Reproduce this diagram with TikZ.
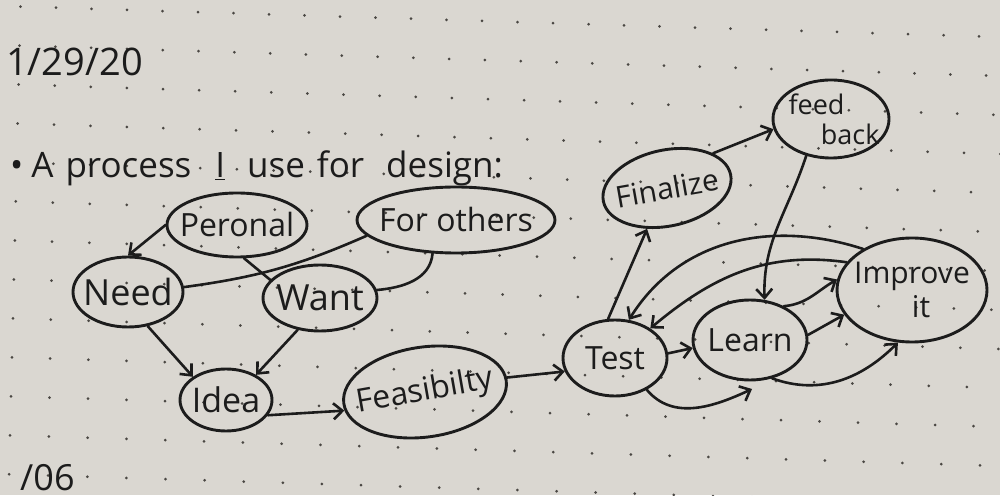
\documentclass[tikz,border=0pt]{standalone}
\usepackage{fontspec}
\setmainfont{Open Sans}
\usetikzlibrary{shapes.geometric,arrows.meta}
\definecolor{paper}{HTML}{DAD7D1}
\definecolor{ink}{HTML}{1C1C1C}
\definecolor{dotc}{HTML}{4A4743}
\tikzset{
  bub/.style={ellipse, draw=ink, line width=2.9pt, inner sep=0pt},
  txt/.style={text=ink, font=\fontsize{32}{34}\selectfont, inner sep=0pt},
  arr/.style={draw=ink, line width=2.6pt, line cap=round, -{Straight Barb[length=9pt,width=16pt]}},
  ln/.style={draw=ink, line width=2.6pt, line cap=round},
}
\begin{document}
\begin{tikzpicture}[x=1pt,y=1pt]
\fill[paper] (0,0) rectangle (1000,495);
\useasboundingbox (0,0) rectangle (1000,495);
\clip (0,0) rectangle (1000,495);
% dotted paper
\foreach \j in {0,...,12}{
  \foreach \i in {-1,...,28}{
    \pgfmathsetmacro{\xx}{20.5-0.95*\j+(35.5+0.3*\j)*\i}
    \pgfmathsetmacro{\yy}{495-(6+39*\j+0.031*\xx)}
    \fill[dotc] (\xx,\yy) circle (1.5pt);
  }
}
% headings
\node[txt, font=\fontsize{38}{40}\selectfont, anchor=base west] (date) at (6,419) {1/29/20};
\node[txt, font=\fontsize{35}{37}\selectfont, anchor=base west] (title) at (10,317)
  {\textbullet\hspace{8pt}A\hspace{12pt}process\hspace{24pt}\underline{I}\hspace{22pt}use\hspace{12pt}for\hspace{22pt}design:};
\node[txt, font=\fontsize{36}{38}\selectfont, anchor=north west] (frag) at (20,31) {/06};
% nodes
\node[bub, minimum width=140pt, minimum height=64pt, label={[txt]center:Peronal}] (per) at (237,270) {};
\node[bub, minimum width=198pt, minimum height=66pt, label={[txt]center:For others}] (oth) at (456,275) {};
\node[bub, minimum width=110pt, minimum height=70pt, label={[txt,font=\fontsize{36}{38}\selectfont]center:Need}] (need) at (128,203) {};
\node[bub, minimum width=114pt, minimum height=66pt, label={[txt,font=\fontsize{36}{38}\selectfont]center:Want}] (want) at (320,197) {};
\node[bub, minimum width=92pt, minimum height=62pt, label={[txt,font=\fontsize{34}{36}\selectfont]center:Idea}] (idea) at (226,95) {};
\node[bub, rotate=8, minimum width=164pt, minimum height=90pt, label={[txt,rotate=10]center:Feasibilty}] (feas) at (425,103) {};
\node[bub, minimum width=104pt, minimum height=76pt, label={[txt]center:Test}] (test) at (615,137) {};
\node[bub, minimum width=114pt, minimum height=80pt, label={[txt]center:Learn}] (learn) at (750,155) {};
\node[bub, minimum width=150pt, minimum height=104pt, label={[txt,font=\fontsize{30}{34}\selectfont,align=center]center:Improve\\\hspace*{0.6em}it}] (imp) at (912,205) {};
\node[bub, rotate=12, minimum width=130pt, minimum height=76pt, label={[txt,font=\fontsize{30}{32}\selectfont,rotate=10]center:Finalize}] (fin) at (667,307) {};
\node[bub, minimum width=116pt, minimum height=78pt, label={[txt,font=\fontsize{27}{30}\selectfont,align=left,xshift=3pt]center:feed\\\hspace*{1.2em}back}] (fb) at (831,376) {};
% connectors
\draw[arr] (per.west) -- (need.north);
\draw[ln] (per.282) -- (want.160);
\draw[ln] (oth.190) to[bend left=8] (need.5);
\draw[ln] (oth.235) to[out=265,in=5] (want.8);
\draw[arr] (need.300) -- (idea.145);
\draw[arr] (want.235) -- (idea.40);
\draw[arr] (idea.340) -- (feas.185);
\draw[arr] (feas.2) -- (test.195);
\draw[arr] (test.100) -- (fin.232);
\draw[arr] (fin.25) -- (fb.190);
\draw[arr] (fb.236) to[out=252,in=92] (learn.70);
\draw[arr] (test.5) -- (learn.188);
\draw[arr] (imp.140) to[out=162,in=58] (test.70);
\draw[arr] (imp.157) to[out=172,in=40] (test.40);
\draw[arr] (learn.45) to[out=5,in=210] (imp.172);
\draw[arr] (learn.5) -- (imp.200);
\draw[arr] (learn.300) to[out=340,in=225] (imp.255);
\coordinate (tl) at (752,106);
\draw[arr] (test.315) to[out=310,in=205] (tl);
\end{tikzpicture}
\end{document}
